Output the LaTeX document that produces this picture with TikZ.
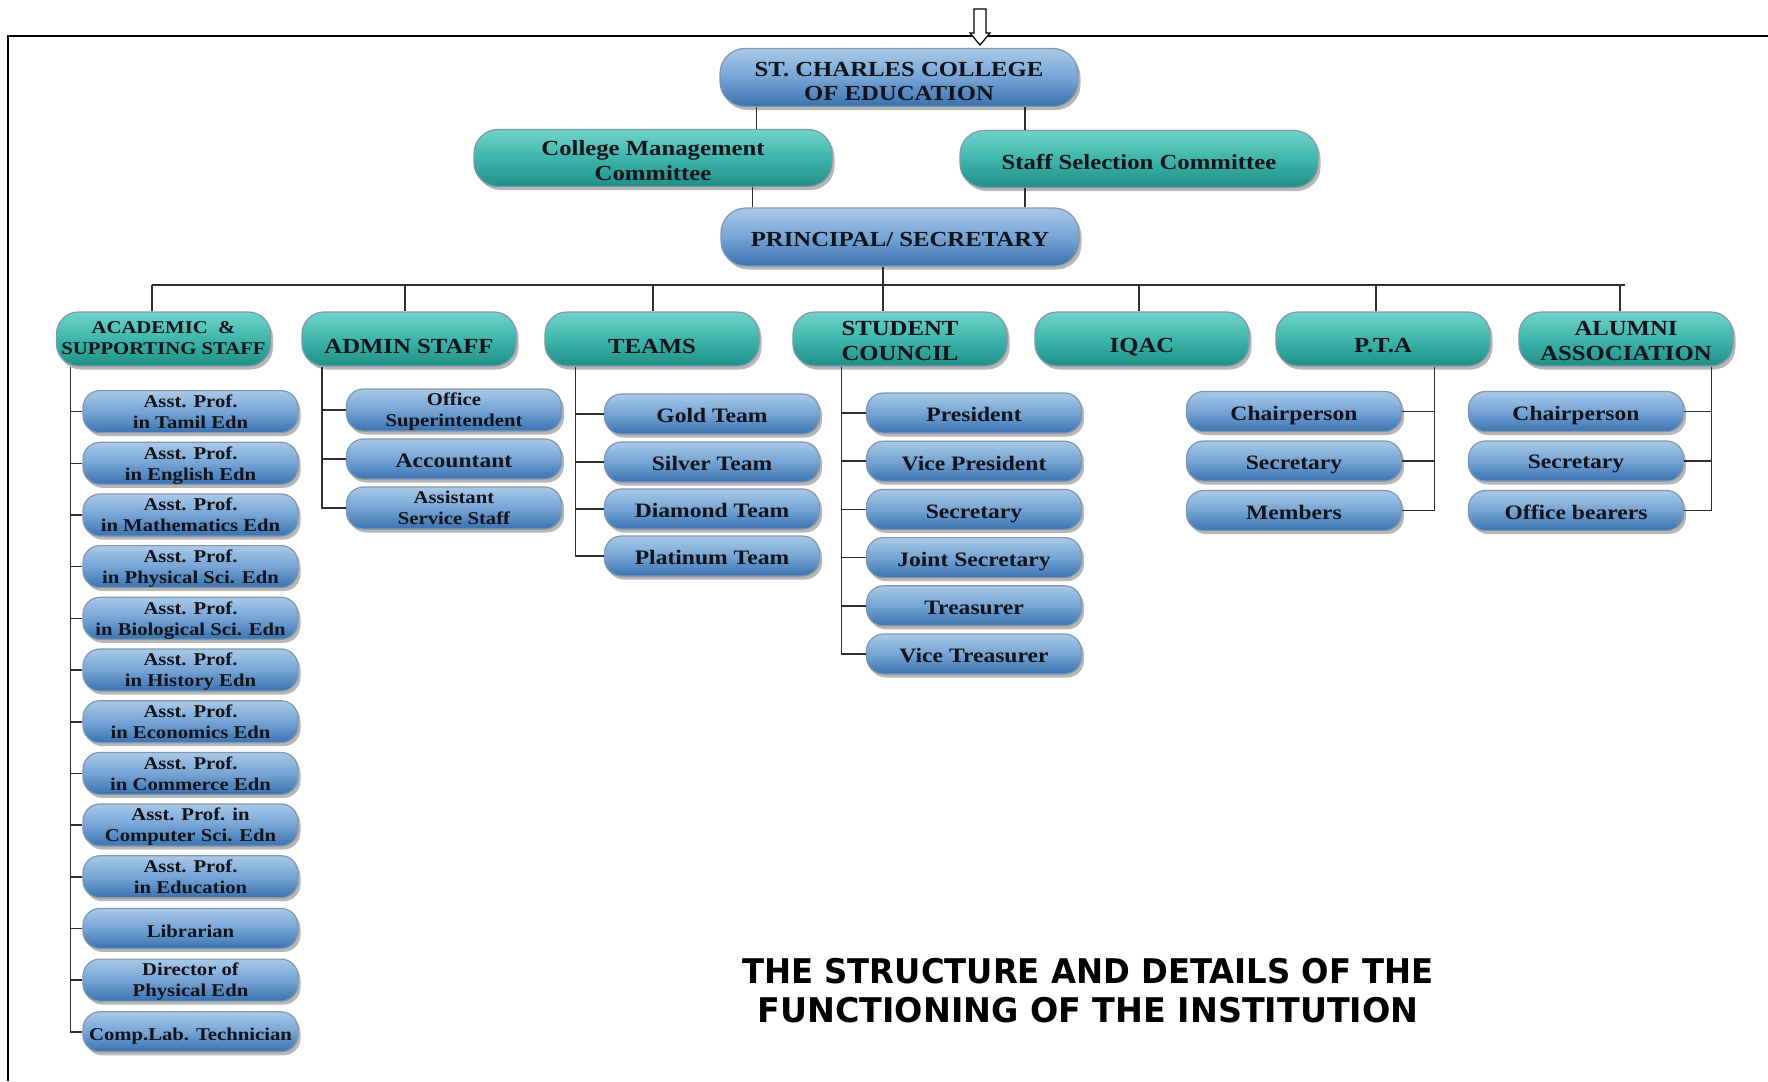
\documentclass[tikz,border=0pt]{standalone}
\usepackage{fontspec}
\setmainfont{Liberation Serif}
\newfontfamily\titlefont{DejaVu Sans}
\usepackage{graphicx}
\usetikzlibrary{shadows,calc}
\definecolor{blueT}{HTML}{A9C9E8}
\definecolor{blueM}{HTML}{76A4D5}
\definecolor{blueB}{HTML}{3A72B0}
\definecolor{tealT}{HTML}{70D3CA}
\definecolor{tealM}{HTML}{3FB5AB}
\definecolor{tealB}{HTML}{1E8F86}
\definecolor{edgec}{HTML}{8097AC}
\definecolor{txtc}{HTML}{10131A}
\definecolor{linec}{HTML}{2E2E2E}
% #1 = downward shift, #2 = font size, #3 = baseline skip, #4 = text
\newcommand\lbl[4][0pt]{{\fontsize{#2}{#3}\selectfont\raisebox{-#1}[\height][\depth]{\scalebox{1.15}[1]{\begin{tabular}{@{}c@{}}#4\end{tabular}}}}}
\begin{document}
\begin{tikzpicture}[x=1pt,y=-1pt,
  pill/.style={rectangle, draw=edgec, line width=1.2pt, inner sep=0pt, text=txtc, font=\bfseries,
    drop shadow={shadow xshift=2.5pt, shadow yshift=-3.5pt, opacity=0.35, fill=black!80}},
  bl/.style={pill, top color=blueT, bottom color=blueB, middle color=blueM, rounded corners=17pt, minimum width=215pt, minimum height=40pt},
  bigbl/.style={pill, top color=blueT, bottom color=blueB, middle color=blueM, rounded corners=25pt, minimum width=358pt, minimum height=58pt},
  tl/.style={pill, top color=tealT, bottom color=tealB, middle color=tealM, rounded corners=22pt, minimum width=214pt, minimum height=54pt},
  bigtl/.style={tl, rounded corners=24pt, minimum width=358pt, minimum height=57pt},
  conn/.style={draw=linec, line width=1.6pt},
  frame/.style={draw=black, line width=1.2pt}
]
\useasboundingbox (0,0) rectangle (1768,1081);
\fill[white] (0,0) rectangle (1768,1081);

% frame and arrow
\draw[frame] (8,1081) -- (8,36) -- (1768,36);
\draw[frame, fill=white] (974,9) -- (986,9) -- (986,33) -- (990,33) -- (980,45) -- (970,33) -- (974,33) -- cycle;

% top levels
\node[bigbl] (top) at (899,77.5) {\lbl[6pt]{21.5}{25}{ST. CHARLES COLLEGE\\OF EDUCATION}};
\node[bigtl] (mgmt) at (653,158) {\lbl[5pt]{21.5}{25}{College Management\\Committee}};
\node[bigtl] (ssc) at (1139,159) {\lbl[5pt]{21.5}{25}{Staff Selection Committee}};
\node[bigbl] (prin) at (900,237) {\lbl[4pt]{21.5}{25}{PRINCIPAL/ SECRETARY}};

\draw[conn] ([xshift=-76pt]mgmt.north east) -- ([xshift=-76pt]mgmt.north east |- top.south);
\draw[conn] ([xshift=65.5pt]ssc.north west) -- ([xshift=65.5pt]ssc.north west |- top.south);
\draw[conn] ([xshift=-80pt]mgmt.south east) -- ([xshift=-80pt]mgmt.south east |- prin.north);
\draw[conn] ([xshift=65.5pt]ssc.south west) -- ([xshift=65.5pt]ssc.south west |- prin.north);

% second level
\node[tl] (acad) at (163.5,339) {\lbl[1pt]{18}{21}{ACADEMIC\ \ \&\\SUPPORTING STAFF}};
\node[tl] (admin) at (409,339) {\lbl[9pt]{21.5}{25}{ADMIN STAFF}};
\node[tl] (teams) at (652,339) {\lbl[9pt]{21.5}{25}{TEAMS}};
\node[tl] (sc) at (900,339) {\lbl[4pt]{21.5}{25}{STUDENT\\COUNCIL}};
\node[tl] (iqac) at (1142,339) {\lbl[8pt]{21.5}{25}{IQAC}};
\node[tl] (pta) at (1383,339) {\lbl[8pt]{21.5}{25}{P.T.A}};
\node[tl] (alum) at (1626,339) {\lbl[4pt]{21.5}{25}{ALUMNI\\ASSOCIATION}};

\coordinate (busL) at (152,285);
\coordinate (busR) at (1625,285);
\draw[conn] (busL) -- (busR);
\draw[conn] ([xshift=-17pt]prin.south) -- ([xshift=-17pt]sc.north);
\draw[conn] ([xshift=-11.5pt]acad.north) -- ([xshift=-11.5pt]acad.north |- busL);
\draw[conn] ([xshift=-4pt]admin.north) -- ([xshift=-4pt]admin.north |- busL);
\draw[conn] ([xshift=1pt]teams.north) -- ([xshift=1pt]teams.north |- busL);
\draw[conn] ([xshift=-3pt]iqac.north) -- ([xshift=-3pt]iqac.north |- busL);
\draw[conn] ([xshift=-7pt]pta.north) -- ([xshift=-7pt]pta.north |- busL);
\draw[conn] ([xshift=-6pt]alum.north) -- ([xshift=-6pt]alum.north |- busR);

% academic children
\node[bl] (a1) at (190.5,411.6) {\lbl[2pt]{18}{21}{Asst. Prof.\\in Tamil Edn}};
\node[bl] (a2) at (190.5,463.3) {\lbl[2pt]{18}{21}{Asst. Prof.\\in English Edn}};
\node[bl] (a3) at (190.5,515.0) {\lbl[2pt]{18}{21}{Asst. Prof.\\in Mathematics Edn}};
\node[bl] (a4) at (190.5,566.6) {\lbl[2pt]{18}{21}{Asst. Prof.\\in Physical Sci. Edn}};
\node[bl] (a5) at (190.5,618.3) {\lbl[2pt]{18}{21}{Asst. Prof.\\in Biological Sci. Edn}};
\node[bl] (a6) at (190.5,670.0) {\lbl[2pt]{18}{21}{Asst. Prof.\\in History Edn}};
\node[bl] (a7) at (190.5,721.7) {\lbl[2pt]{18}{21}{Asst. Prof.\\in Economics Edn}};
\node[bl] (a8) at (190.5,773.4) {\lbl[2pt]{18}{21}{Asst. Prof.\\in Commerce Edn}};
\node[bl] (a9) at (190.5,825.0) {\lbl[2pt]{18}{21}{Asst. Prof. in\\Computer Sci. Edn}};
\node[bl] (a10) at (190.5,876.7) {\lbl[2pt]{18}{21}{Asst. Prof.\\in Education}};
\node[bl] (a11) at (190.5,928.4) {\lbl[5pt]{18}{21}{Librarian}};
\node[bl] (a12) at (190.5,980.1) {\lbl[2pt]{18}{21}{Director of\\Physical Edn}};
\node[bl] (a13) at (190.5,1031.8) {\lbl[4pt]{18}{21}{Comp.Lab. Technician}};
\coordinate (aT) at ([xshift=14.5pt]acad.south west);
\draw[conn] (aT) |- (a13.west);
\foreach \i in {1,...,12} \draw[conn] (aT |- a\i.west) -- (a\i.west);

% admin children
\node[bl] (d1) at (454,410) {\lbl[2pt]{18}{21}{Office\\Superintendent}};
\node[bl] (d2) at (454,459) {\lbl[4pt]{20.5}{24}{Accountant}};
\node[bl] (d3) at (454,508) {\lbl[2pt]{18}{21}{Assistant\\Service Staff}};
\coordinate (dT) at ([xshift=20.5pt]admin.south west);
\draw[conn] (dT) |- (d3.west);
\foreach \i in {1,2} \draw[conn] (dT |- d\i.west) -- (d\i.west);

% teams children
\node[bl] (t1) at (712,414) {\lbl[4pt]{20.5}{24}{Gold Team}};
\node[bl] (t2) at (712,462) {\lbl[4pt]{20.5}{24}{Silver Team}};
\node[bl] (t3) at (712,509) {\lbl[4pt]{20.5}{24}{Diamond Team}};
\node[bl] (t4) at (712,556) {\lbl[4pt]{20.5}{24}{Platinum Team}};
\coordinate (tT) at ([xshift=31pt]teams.south west);
\draw[conn] (tT) |- (t4.west);
\foreach \i in {1,2,3} \draw[conn] (tT |- t\i.west) -- (t\i.west);

% student council children
\node[bl] (s1) at (974,413) {\lbl[4pt]{20.5}{24}{President}};
\node[bl] (s2) at (974,461.2) {\lbl[4pt]{20.5}{24}{Vice President}};
\node[bl] (s3) at (974,509.4) {\lbl[4pt]{20.5}{24}{Secretary}};
\node[bl] (s4) at (974,557.6) {\lbl[4pt]{20.5}{24}{Joint Secretary}};
\node[bl] (s5) at (974,605.8) {\lbl[4pt]{20.5}{24}{Treasurer}};
\node[bl] (s6) at (974,654) {\lbl[4pt]{20.5}{24}{Vice Treasurer}};
\coordinate (sT) at ([xshift=49pt]sc.south west);
\draw[conn] (sT) |- (s6.west);
\foreach \i in {1,...,5} \draw[conn] (sT |- s\i.west) -- (s\i.west);

% PTA children
\node[bl] (p1) at (1294,411.5) {\lbl[4pt]{20.5}{24}{Chairperson}};
\node[bl] (p2) at (1294,461) {\lbl[4pt]{20.5}{24}{Secretary}};
\node[bl] (p3) at (1294,510.5) {\lbl[4pt]{20.5}{24}{Members}};
\coordinate (pT) at ([xshift=-56pt]pta.south east);
\draw[conn] (pT) |- (p3.east);
\foreach \i in {1,2} \draw[conn] (pT |- p\i.east) -- (p\i.east);

% Alumni children
\node[bl] (l1) at (1576,411.5) {\lbl[4pt]{20.5}{24}{Chairperson}};
\node[bl] (l2) at (1576,461) {\lbl[3pt]{20.5}{24}{Secretary}};
\node[bl] (l3) at (1576,510.5) {\lbl[4pt]{20.5}{24}{Office bearers}};
\coordinate (lT) at ([xshift=-22pt]alum.south east);
\draw[conn] (lT) |- (l3.east);
\foreach \i in {1,2} \draw[conn] (lT |- l\i.east) -- (l\i.east);

% title
\node[inner sep=0pt, font=\titlefont\bfseries] (title) at (1088,994.7)
  {{\fontsize{34}{39}\selectfont\begin{tabular}{@{}c@{}}\scalebox{0.95}[1]{THE STRUCTURE AND DETAILS OF THE}\\\scalebox{0.98}[1]{FUNCTIONING OF THE INSTITUTION}\end{tabular}}};
\end{tikzpicture}
\end{document}
